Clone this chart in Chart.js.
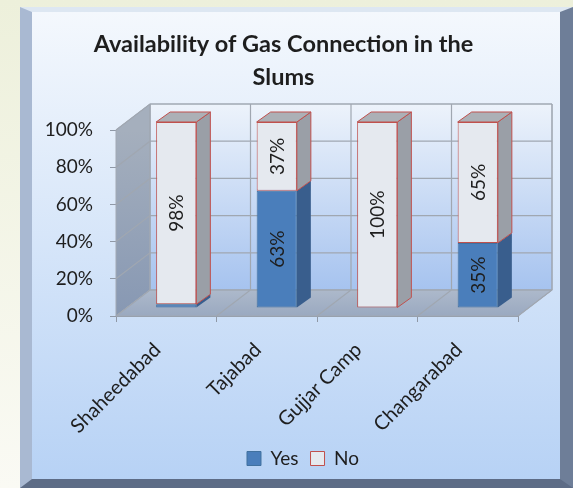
<!DOCTYPE html>
<html>
<head>
<meta charset="utf-8">
<title>Availability of Gas Connection in the Slums</title>
<script src="https://cdn.jsdelivr.net/npm/chart.js@4.4.1/dist/chart.umd.min.js"></script>
<style>
  html, body { margin: 0; padding: 0; }
  body {
    width: 573px; height: 488px; overflow: hidden; position: relative;
    background: linear-gradient(to bottom, #edf0db, #fafaf4);
  }
  #frame {
    position: absolute; left: 20px; top: 7px; width: 528px; height: 467px;
    border-style: solid; border-width: 5px 13px 9px 12px;
    border-color: #dde7f2 #6e7e98 #5d6c86 #a9b9d2;
    background: linear-gradient(to bottom, #f4f8fd, #b7d2f5);
  }
  #wrap { position: absolute; left: 0; top: 0; width: 573px; height: 488px; }
</style>
</head>
<body>
<div id="frame"></div>
<div id="wrap"><canvas id="gasChart" width="573" height="488"></canvas></div>
<script>
// Share of households with / without a gas connection, per slum (%)
const categories = ['Shaheedabad', 'Tajabad', 'Gujjar Camp', 'Changarabad'];
const yesShare = [2, 63, 0, 35];
const noShare = [98, 37, 100, 65];
const tickValues = [0, 20, 40, 60, 80, 100];

const FONT = 'Lato, "Open Sans", sans-serif';
const TEXT = '#1e1e1e';

// 3D box geometry
const WALL_DX = 34, WALL_DY = 26;  // depth of the back wall
const BAR_DX = 10, BAR_DY = 8;     // bars stand partway into the box
const SIDE_DX = 14, SIDE_DY = 10;  // bar thickness

const faces = {
  Yes: { side: '#395e8d', top: '#6a93c8', edge: null },
  No: { side: '#9a9fa7', top: '#acb0b6', edge: '#c0504d' }
};

function poly(ctx, pts, fill, stroke) {
  ctx.beginPath();
  ctx.moveTo(pts[0][0], pts[0][1]);
  for (let i = 1; i < pts.length; i++) ctx.lineTo(pts[i][0], pts[i][1]);
  ctx.closePath();
  if (fill) { ctx.fillStyle = fill; ctx.fill(); }
  if (stroke) { ctx.strokeStyle = stroke; ctx.lineWidth = 1; ctx.stroke(); }
}

const box3d = {
  id: 'box3d',
  afterLayout(chart) {
    // centre title and legend on the whole panel, not just the plot
    chart.titleBlock.right = 567;
    chart.legend.left += 44;
    chart.legend.right += 44;
  },
  beforeDatasetsDraw(chart) {
    const { ctx, chartArea: a, scales: { x, y } } = chart;
    ctx.save();
    // back wall
    let g = ctx.createLinearGradient(0, a.top - WALL_DY, 0, a.bottom - WALL_DY);
    g.addColorStop(0, '#edf3fb');
    g.addColorStop(1, '#a6c3ef');
    poly(ctx, [[a.left + WALL_DX, a.top - WALL_DY], [a.right + WALL_DX, a.top - WALL_DY],
      [a.right + WALL_DX, a.bottom - WALL_DY], [a.left + WALL_DX, a.bottom - WALL_DY]], g, '#a2a9b4');
    // left wall
    g = ctx.createLinearGradient(0, a.top, 0, a.bottom);
    g.addColorStop(0, '#a5afbd');
    g.addColorStop(1, '#8798b3');
    poly(ctx, [[a.left, a.top], [a.left + WALL_DX, a.top - WALL_DY],
      [a.left + WALL_DX, a.bottom - WALL_DY], [a.left, a.bottom]], g, '#a2a9b4');
    // floor
    g = ctx.createLinearGradient(0, a.bottom - WALL_DY, 0, a.bottom);
    g.addColorStop(0, '#adb9cb');
    g.addColorStop(1, '#9aa9c0');
    poly(ctx, [[a.left, a.bottom], [a.left + WALL_DX, a.bottom - WALL_DY],
      [a.right + WALL_DX, a.bottom - WALL_DY], [a.right, a.bottom]], g, '#a2a9b4');

    // gridlines on the walls
    ctx.strokeStyle = '#a0a7b1';
    ctx.lineWidth = 1.2;
    ctx.beginPath();
    tickValues.forEach(v => {
      const py = y.getPixelForValue(v);
      ctx.moveTo(a.left, py);
      ctx.lineTo(a.left + WALL_DX, py - WALL_DY);
      ctx.lineTo(a.right + WALL_DX, py - WALL_DY);
    });
    for (let i = 0; i <= categories.length; i++) {
      const px = x.getPixelForValue(i - 0.5);
      ctx.moveTo(px, a.bottom);
      ctx.lineTo(px + WALL_DX, a.bottom - WALL_DY);
      ctx.lineTo(px + WALL_DX, a.top - WALL_DY);
    }
    ctx.stroke();
    ctx.restore();

    // bars are drawn shifted into the box
    ctx.save();
    ctx.translate(BAR_DX, -BAR_DY);
  },
  afterDatasetsDraw(chart) {
    const { ctx } = chart;
    // side and top faces of each stacked segment
    chart.data.datasets.forEach((ds, di) => {
      const meta = chart.getDatasetMeta(di);
      const f = faces[ds.label];
      meta.data.forEach((el, i) => {
        if (!ds.data[i]) return;
        const { x, y, base, width } = el.getProps(['x', 'y', 'base', 'width'], true);
        const l = x - width / 2, r = x + width / 2;
        poly(ctx, [[r, y], [r + SIDE_DX, y - SIDE_DY], [r + SIDE_DX, base - SIDE_DY], [r, base]], f.side, f.edge);
        const isTop = chart.data.datasets.slice(di + 1).every(o => !o.data[i]);
        if (isTop) {
          poly(ctx, [[l, y], [l + SIDE_DX, y - SIDE_DY], [r + SIDE_DX, y - SIDE_DY], [r, y]], f.top, f.edge);
        }
      });
    });
    // value labels, rotated to read upwards
    ctx.fillStyle = TEXT;
    ctx.font = '19px ' + FONT;
    ctx.textAlign = 'center';
    ctx.textBaseline = 'middle';
    chart.data.datasets.forEach((ds, di) => {
      chart.getDatasetMeta(di).data.forEach((el, i) => {
        const v = ds.data[i];
        if (v < 5) return;
        const { x, y, base } = el.getProps(['x', 'y', 'base'], true);
        ctx.save();
        ctx.translate(x, (y + base) / 2);
        ctx.rotate(-Math.PI / 2);
        ctx.fillText(v + '%', 0, 1);
        ctx.restore();
      });
    });
    ctx.restore();
  }
};

new Chart(document.getElementById('gasChart'), {
  type: 'bar',
  data: {
    labels: categories,
    datasets: [
      { label: 'Yes', data: yesShare, backgroundColor: '#4a7ebb', borderColor: '#41719f',
        borderWidth: 1, borderSkipped: false, clip: false },
      { label: 'No', data: noShare, backgroundColor: '#e5e9ef', borderColor: '#c0504d',
        borderWidth: 1, borderSkipped: false, clip: false }
    ]
  },
  options: {
    responsive: false,
    animation: false,
    events: [],
    barPercentage: 0.4,
    categoryPercentage: 1,
    layout: { padding: { left: 0, right: 55, top: 0, bottom: 10 } },
    scales: {
      x: {
        stacked: true,
        grid: { drawOnChartArea: false, tickLength: 6, color: '#8f98a6', offset: true },
        border: { color: '#8f98a6' },
        ticks: { minRotation: 45, maxRotation: 45, padding: 16, labelOffset: -9, color: TEXT,
          font: { family: FONT, size: 20 } },
        afterFit: s => { s.height = 121; }
      },
      y: {
        stacked: true,
        min: 0, max: 100,
        afterBuildTicks: s => { s.ticks = tickValues.map(v => ({ value: v })); },
        grid: { drawOnChartArea: false, tickLength: 6, color: '#8f98a6' },
        border: { color: '#8f98a6' },
        ticks: { padding: 17, color: TEXT, font: { family: FONT, size: 19 }, callback: v => v + '%' },
        afterFit: s => { s.width = 116; }
      }
    },
    plugins: {
      title: {
        display: true,
        text: ['Availability of Gas Connection in the', 'Slums'],
        color: TEXT,
        font: { family: FONT, size: 23.5, weight: 'bold', lineHeight: '33px' },
        padding: { top: 28, bottom: 36 }
      },
      legend: {
        position: 'bottom',
        labels: { boxWidth: 14, boxHeight: 14, padding: 12, color: TEXT, font: { family: FONT, size: 19 } }
      },
      tooltip: { enabled: false }
    }
  },
  plugins: [box3d]
});
</script>
</body>
</html>
